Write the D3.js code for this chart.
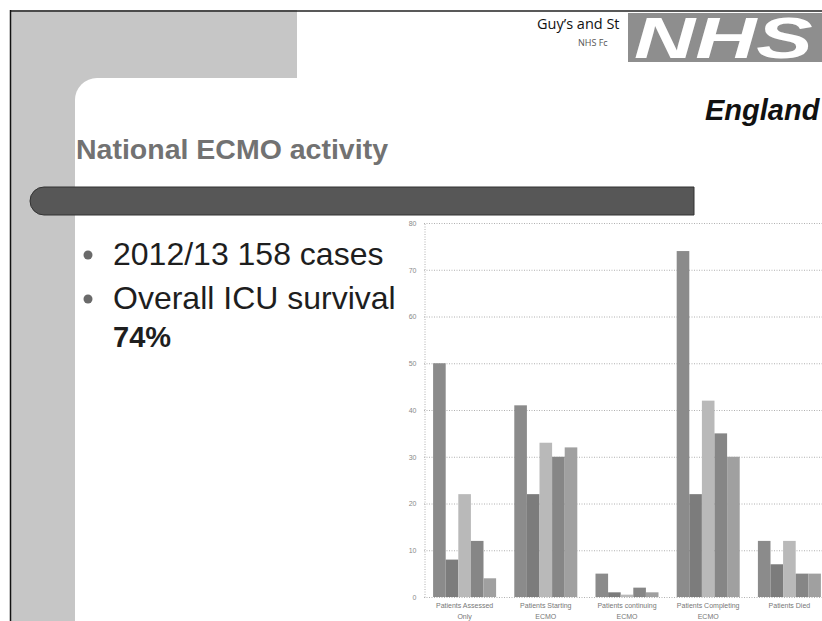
<!DOCTYPE html>
<html>
<head>
<meta charset="utf-8">
<script src="https://cdn.jsdelivr.net/npm/d3@7"></script>
<style>
html,body{margin:0;padding:0;background:#fff;}
svg{display:block;}
</style>
</head>
<body>
<svg id="c" width="822" height="621"></svg>
<script>
// ---- data ----
const categories = [
  ["Patients Assessed", "Only"],
  ["Patients Starting", "ECMO"],
  ["Patients continuing", "ECMO"],
  ["Patients Completing", "ECMO"],
  ["Patients Died"]
];
const seriesNames = ["S1", "S2", "S3", "S4", "S5"];
const series1 = [50, 41, 5, 74, 12];
const series2 = [8, 22, 1, 22, 7];
const series3 = [22, 33, 0.5, 42, 12];
const series4 = [12, 30, 2, 35, 5];
const series5 = [4, 32, 1, 30, 5];
const yTicks = [0, 10, 20, 30, 40, 50, 60, 70, 80];
const bullets = ["2012/13 158 cases", "Overall ICU survival"];
const boldLine = "74%";
const titleText = "National ECMO activity";

const seriesValues = [series1, series2, series3, series4, series5];
const seriesColors = ["#8b8b8b", "#7c7c7c", "#b9b9b9", "#868686", "#a0a0a0"];

const svg = d3.select("#c");

// ---- slide decoration ----
svg.append("rect").attr("x", 10).attr("y", 10).attr("width", 287).attr("height", 95).attr("fill", "#c6c6c6");
svg.append("rect").attr("x", 10).attr("y", 10).attr("width", 65).attr("height", 611).attr("fill", "#c6c6c6");
svg.append("rect").attr("x", 75).attr("y", 78).attr("width", 800).attr("height", 600).attr("rx", 22).attr("fill", "#fff");
svg.append("line").attr("x1", 10).attr("y1", 11).attr("x2", 822).attr("y2", 11).attr("stroke", "#222").attr("stroke-width", 1.5);
svg.append("line").attr("x1", 10.5).attr("y1", 10).attr("x2", 10.5).attr("y2", 621).attr("stroke", "#111").attr("stroke-width", 1.5);

// dark bar
svg.append("path")
  .attr("d", "M44,187 L694,187 L694,215 L44,215 A14,14 0 0 1 44,187 Z")
  .attr("fill", "#575757").attr("stroke", "#333").attr("stroke-width", 1);

// title
svg.append("text").attr("x", 76).attr("y", 159)
  .attr("font-family", "Liberation Sans, Arial, sans-serif").attr("font-weight", "bold")
  .attr("font-size", 28.5).attr("fill", "#727272").text(titleText);

// bullets
const bulletY = [265, 309];
bullets.forEach((t, i) => {
  svg.append("circle").attr("cx", 88).attr("cy", bulletY[i] - 10).attr("r", 4.5).attr("fill", "#6a6a6a");
  svg.append("text").attr("x", 113).attr("y", bulletY[i])
    .attr("font-family", "Liberation Sans, Arial, sans-serif").attr("font-size", 32)
    .attr("fill", "#1e1e1e").text(t);
});
svg.append("text").attr("x", 113).attr("y", 347)
  .attr("font-family", "Liberation Sans, Arial, sans-serif").attr("font-weight", "bold")
  .attr("font-size", 29).attr("fill", "#1e1e1e").text(boldLine);

// logo area
svg.append("text").attr("x", 537).attr("y", 29)
  .attr("font-family", "Open Sans, Noto Sans, sans-serif").attr("font-size", 14.5)
  .attr("fill", "#111").text("Guy\u2019s and St");
svg.append("text").attr("x", 578).attr("y", 46)
  .attr("font-family", "Open Sans, Noto Sans, sans-serif").attr("font-size", 9)
  .attr("fill", "#555").text("NHS Fc");
svg.append("rect").attr("x", 628).attr("y", 13).attr("width", 200).attr("height", 49).attr("fill", "#8e8e8e");
svg.append("text").attr("transform", "translate(634,58) scale(1.46,1)")
  .attr("font-family", "Liberation Sans, Arial, sans-serif").attr("font-weight", "bold").attr("font-style", "italic")
  .attr("font-size", 58).attr("fill", "#fff").text("NHS");
svg.append("text").attr("x", 705).attr("y", 120)
  .attr("font-family", "Liberation Sans, Arial, sans-serif").attr("font-weight", "bold").attr("font-style", "italic")
  .attr("font-size", 29).attr("fill", "#111").text("England");

// ---- chart ----
const y = d3.scaleLinear().domain([0, 80]).range([597, 223]);
const x0 = d3.scaleBand().domain(d3.range(categories.length)).range([424, 830]).paddingInner(0.224).paddingOuter(0.112);
const x1 = d3.scaleBand().domain(d3.range(seriesNames.length)).range([0, x0.bandwidth()]);

const grid = svg.append("g");
grid.selectAll("line").data(yTicks).join("line")
  .attr("x1", 424).attr("x2", 822)
  .attr("y1", d => y(d) + 0.5).attr("y2", d => y(d) + 0.5)
  .attr("stroke", "#b0b0b0").attr("stroke-width", 1).attr("stroke-dasharray", "1,1.5");

const yAxis = svg.append("g").attr("transform", "translate(424.5,0)")
  .call(d3.axisLeft(y).tickValues(yTicks).tickSize(0).tickPadding(8));
yAxis.select(".domain").attr("stroke", "#b0b0b0").attr("stroke-dasharray", "1,1.5");
yAxis.selectAll("text").attr("font-family", "Liberation Sans, Arial, sans-serif")
  .attr("font-size", 7).attr("fill", "#888");

const groups = svg.append("g").selectAll("g").data(categories).join("g")
  .attr("transform", (d, i) => `translate(${x0(i)},0)`);
groups.selectAll("rect").data((d, i) => seriesValues.map((s, k) => ({k, v: s[i]}))).join("rect")
  .attr("x", d => x1(d.k)).attr("width", x1.bandwidth())
  .attr("y", d => y(d.v)).attr("height", d => y(0) - y(d.v))
  .attr("fill", d => seriesColors[d.k]);

// category labels
const labels = svg.append("g");
categories.forEach((lines, i) => {
  const t = labels.append("text").attr("x", x0(i) + x0.bandwidth() / 2).attr("y", 608)
    .attr("text-anchor", "middle").attr("font-family", "Liberation Sans, Arial, sans-serif")
    .attr("font-size", 7).attr("fill", "#777");
  lines.forEach((ln, j) => t.append("tspan").attr("x", x0(i) + x0.bandwidth() / 2).attr("dy", j ? 11 : 0).text(ln));
});
</script>
</body>
</html>
